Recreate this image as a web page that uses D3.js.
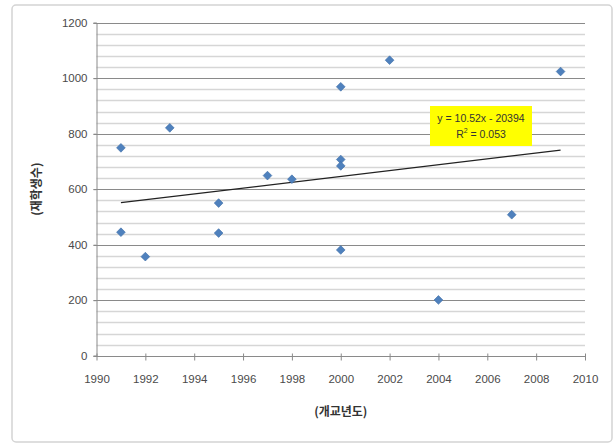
<!DOCTYPE html>
<html>
<head>
<meta charset="utf-8">
<script src="https://cdn.jsdelivr.net/npm/d3@7"></script>
<style>
  body { margin: 0; background: #fff; }
  text { font-family: "Liberation Sans", "Noto Sans CJK KR", sans-serif; }
</style>
</head>
<body>
<div id="chart"></div>
<script>
// data
const years = [1991, 1991, 1992, 1993, 1995, 1995, 1997, 1998, 2000, 2000, 2000, 2000, 2002, 2004, 2007, 2009];
const students = [749, 445, 357, 821, 550, 442, 649, 636, 969, 707, 684, 381, 1065, 201, 508, 1024];
const xTicks = [1990, 1992, 1994, 1996, 1998, 2000, 2002, 2004, 2006, 2008, 2010];
const yTicks = [0, 200, 400, 600, 800, 1000, 1200];
const yMinorStep = 40;
// linear trendline as printed in the chart label
const trendSlope = 10.52, trendIntercept = -20394;
const trendEq = "y = 10.52x - 20394";
const trendR2 = "0.053";

const W = 616, H = 443;
const plot = { left: 96.5, right: 585, top: 22.7, bottom: 355.7 };

const svg = d3.select("#chart").append("svg")
  .attr("width", W)
  .attr("height", H);

// outer chart frame
svg.append("rect")
  .attr("x", 12).attr("y", 5)
  .attr("width", 600).attr("height", 437)
  .attr("rx", 4)
  .attr("fill", "#fff")
  .attr("stroke", "#d4d4d4")
  .attr("stroke-width", 1.5);

const x = d3.scaleLinear().domain([1990, 2010]).range([plot.left, plot.right]);
const y = d3.scaleLinear().domain([0, 1200]).range([plot.bottom, plot.top]);

// minor gridlines
const minor = d3.range(0, 1201, yMinorStep).filter(v => v % 200 !== 0);
svg.append("g")
  .selectAll("line")
  .data(minor)
  .join("line")
  .attr("x1", plot.left).attr("x2", plot.right)
  .attr("y1", d => Math.round(y(d)) + 0.5).attr("y2", d => Math.round(y(d)) + 0.5)
  .attr("stroke", "#d6d6d6")
  .attr("stroke-width", 1.5);

// major gridlines
svg.append("g")
  .selectAll("line")
  .data(yTicks.filter(d => d > 0))
  .join("line")
  .attr("x1", plot.left - 3).attr("x2", plot.right)
  .attr("y1", d => Math.round(y(d)) + 0.5).attr("y2", d => Math.round(y(d)) + 0.5)
  .attr("stroke", "#8a8a8a")
  .attr("stroke-width", 1);

// y axis
const yAxis = svg.append("g")
  .attr("transform", `translate(${plot.left},0)`)
  .call(d3.axisLeft(y).tickValues(yTicks).tickFormat(d3.format("d")).tickSize(3).tickPadding(6));
yAxis.select(".domain").attr("stroke", "#8a8a8a");
yAxis.selectAll(".tick line").attr("stroke", "#8a8a8a");
yAxis.selectAll("text").attr("font-size", "11.5px").attr("fill", "#4a4a4a");

// x axis
const xAxis = svg.append("g")
  .attr("transform", `translate(0,${Math.round(plot.bottom) + 0.5})`)
  .call(d3.axisBottom(x).tickValues(xTicks).tickFormat(d3.format("d")).tickSize(4).tickPadding(14).tickSizeOuter(0));
xAxis.select(".domain").attr("stroke", "#8a8a8a").attr("d", `M${plot.left - 3},0H${plot.right}`);
xAxis.selectAll(".tick line").attr("stroke", "#8a8a8a").attr("y1", -3);
xAxis.selectAll("text").attr("font-size", "11.5px").attr("fill", "#4a4a4a");

// axis titles
svg.append("text")
  .attr("x", (plot.left + plot.right) / 2)
  .attr("y", 413)
  .attr("text-anchor", "middle")
  .attr("dominant-baseline", "middle")
  .attr("font-size", "12px")
  .attr("font-weight", "bold")
  .attr("fill", "#333")
  .style("font-family", "'Noto Sans CJK KR', sans-serif")
  .text("(개교년도)");

svg.append("text")
  .attr("transform", `translate(38,${(plot.top + plot.bottom) / 2}) rotate(-90)`)
  .attr("text-anchor", "middle")
  .attr("dominant-baseline", "middle")
  .attr("font-size", "12px")
  .attr("font-weight", "bold")
  .attr("fill", "#333")
  .style("font-family", "'Noto Sans CJK KR', sans-serif")
  .text("(재학생수)");

// trendline over the data range
const [x0, x1] = d3.extent(years);
svg.append("line")
  .attr("x1", x(x0)).attr("y1", y(trendSlope * x0 + trendIntercept))
  .attr("x2", x(x1)).attr("y2", y(trendSlope * x1 + trendIntercept))
  .attr("stroke", "#222")
  .attr("stroke-width", 1.2);

// points
const pts = years.map((yr, i) => ({ yr, v: students[i] }));
svg.append("g")
  .selectAll("path")
  .data(pts)
  .join("path")
  .attr("d", d3.symbol(d3.symbolSquare, 38))
  .attr("transform", d => `translate(${x(d.yr)},${y(d.v)}) rotate(45)`)
  .attr("fill", "#4f81bd")
  .attr("stroke", "#3f6fa8")
  .attr("stroke-width", 0.6);

// equation label
const lab = svg.append("g");
lab.append("rect")
  .attr("x", 430).attr("y", 106)
  .attr("width", 102).attr("height", 40)
  .attr("fill", "#ffff00");
lab.append("text")
  .attr("x", 481).attr("y", 119)
  .attr("text-anchor", "middle")
  .attr("dominant-baseline", "middle")
  .attr("font-size", "10.5px")
  .attr("fill", "#333")
  .text(trendEq);
const r2 = lab.append("text")
  .attr("x", 481).attr("y", 135)
  .attr("text-anchor", "middle")
  .attr("dominant-baseline", "middle")
  .attr("font-size", "10.5px")
  .attr("fill", "#333");
r2.append("tspan").text("R");
r2.append("tspan").attr("font-size", "7px").attr("dy", -4).text("2");
r2.append("tspan").attr("dy", 4).text(" = " + trendR2);
</script>
</body>
</html>
